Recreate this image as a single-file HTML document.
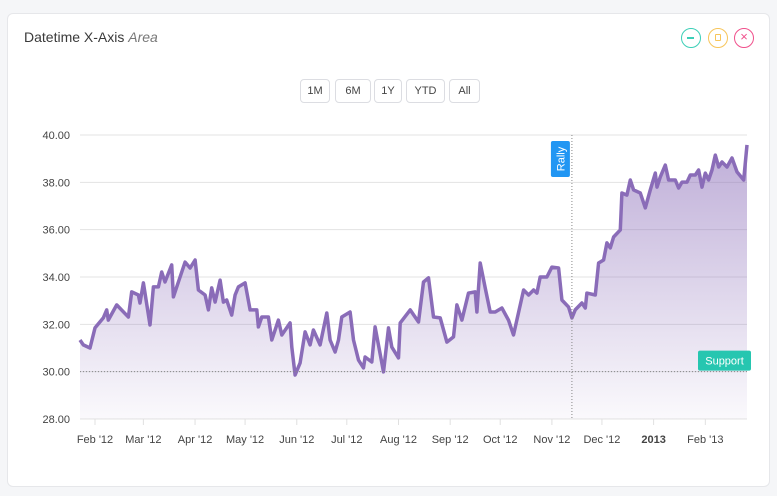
<!DOCTYPE html>
<html><head><meta charset="utf-8"><style>
body{margin:0;width:777px;height:496px;background:#f5f6f8;font-family:"Liberation Sans",sans-serif;overflow:hidden;position:relative}
.card{position:absolute;left:7px;top:13px;width:763px;height:474px;background:#fff;border:1px solid #e6e7ea;border-radius:6px;box-sizing:border-box}
.title{position:absolute;left:24px;top:29px;font-size:14px;color:#3a3a3a}
.title i{color:#777}
.btn{position:absolute;top:79px;height:24px;border:1px solid #dcdde2;border-radius:4px;font-size:11px;color:#444;line-height:23px;text-align:center;box-sizing:border-box;background:#fff}
.ic{position:absolute;top:28px;width:20px;height:20px;border-radius:50%;box-sizing:border-box;border:1.5px solid;font-size:13px;text-align:center;line-height:16px}
.ic .bar{position:absolute;left:5px;top:8px;width:7px;height:1.5px;background:#3ccfb7}
.ic .sq{position:absolute;left:5.5px;top:5px;width:4px;height:5px;border:1.5px solid #f7c55a;border-radius:1px}
svg{position:absolute;left:0;top:0}
</style></head><body>
<div class="card"></div>
<div class="title">Datetime X-Axis <i>Area</i></div>
<div class="ic" style="left:681px;border-color:#3ccfb7"><div class="bar"></div></div>
<div class="ic" style="left:708px;border-color:#f7c55a"><div class="sq"></div></div>
<div class="ic" style="left:734px;border-color:#f0508c;color:#f0508c">×</div>
<div class="btn" style="left:300px;width:30px">1M</div>
<div class="btn" style="left:335px;width:36px">6M</div>
<div class="btn" style="left:374px;width:28px">1Y</div>
<div class="btn" style="left:406px;width:39px">YTD</div>
<div class="btn" style="left:449px;width:31px">All</div>
<svg id="chart" width="777" height="496"></svg>
<script>
const days=[22,24,28,31,36,38,39,44,51,53,57,58,60,64,66,69,71,73,77,78,81,85,88,91,93,97,99,101,103,106,108,110,113,115,117,121,124,128,129,131,135,137,141,143,148,149,151,154,157,160,162,166,170,172,175,177,179,184,186,189,192,193,197,199,204,207,209,213,214,220,225,228,231,234,238,242,246,248,251,255,259,260,262,265,268,271,275,279,282,288,291,294,296,298,302,305,309,311,315,317,319,323,325,326,331,333,336,338,340,342,346,347,350,352,354,358,361,364,367,368,370,373,375,379,381,383,386,388,391,393,395,397,399,401,403,405,407,410,413,416,420,422];
const values=[31.34,31.13,31.00,31.85,32.27,32.61,32.18,32.82,32.31,33.37,33.24,32.90,33.75,31.97,33.58,33.58,34.21,33.79,34.51,33.16,33.79,34.63,34.38,34.72,33.45,33.24,32.61,33.54,32.94,33.87,32.94,33.03,32.39,33.24,33.58,33.75,32.61,32.61,31.89,32.31,32.31,31.34,32.18,31.55,32.06,31.04,29.86,30.37,31.68,31.13,31.76,31.13,32.48,31.34,30.83,31.34,32.31,32.52,31.34,30.49,30.16,30.62,30.41,31.89,29.99,31.85,31.04,30.58,32.06,32.61,32.10,33.79,33.96,32.31,32.27,31.25,31.47,32.82,32.18,33.32,33.37,32.52,34.59,33.54,32.52,32.52,32.69,32.18,31.55,33.45,33.24,33.45,33.32,34.00,34.00,34.42,34.38,33.03,32.73,32.27,32.61,32.90,32.69,33.32,33.24,34.59,34.72,35.44,35.23,35.69,35.99,37.55,37.46,38.10,37.68,37.55,36.92,37.68,38.39,37.80,38.23,38.73,38.10,38.10,37.76,38.01,38.01,38.31,38.31,38.52,37.80,38.39,38.10,38.52,39.15,38.65,38.86,38.65,39.03,38.44,38.10,39.58];
const yTicks=[28,30,32,34,36,38,40];
const xTickDays=[31,60,91,121,152,182,213,244,274,305,335,366,397];
const xTickLabels=["Feb '12","Mar '12","Apr '12","May '12","Jun '12","Jul '12","Aug '12","Sep '12","Oct '12","Nov '12","Dec '12","2013","Feb '13"];
const rallyDay=317, supportValue=30;
const L=80,R=747,T=135,B=419,d0=22,d1=422,v0=28,v1=40;
const X=d=>L+(d-d0)/(d1-d0)*(R-L);
const Y=v=>B-(v-v0)/(v1-v0)*(B-T);
const svg=document.getElementById('chart');
const NS='http://www.w3.org/2000/svg';
function mk(t,a,p){const e=document.createElementNS(NS,t);for(const k in a)e.setAttribute(k,a[k]);(p||svg).appendChild(e);return e;}
const defs=mk('defs',{});
const g=mk('linearGradient',{id:'fg',x1:0,y1:0,x2:0,y2:1},defs);
mk('stop',{offset:'0','stop-color':'#8a6cb8','stop-opacity':'0.55'},g);
mk('stop',{offset:'1','stop-color':'#8a6cb8','stop-opacity':'0.04'},g);
yTicks.forEach(v=>{
 const l=mk('line',{x1:L,x2:R,y1:Y(v),y2:Y(v),stroke:'#e3e3e3'});
 
 
 const t=mk('text',{x:70,y:Y(v)+4,'text-anchor':'end','font-size':'11',fill:'#444'});
 t.textContent=v.toFixed(2);
 
 
});
xTickDays.forEach((d,i)=>{
 mk('line',{x1:X(d),x2:X(d),y1:B,y2:B+6,stroke:'#e0e0e0'});
 const t=mk('text',{x:X(d),y:B+24,'text-anchor':'middle','font-size':'11',fill:'#444','font-weight':xTickLabels[i]==='2013'?'bold':'normal'});
 t.textContent=xTickLabels[i];
 
 
});
let pd=days.map((d,i)=>(i?'L':'M')+X(d).toFixed(1)+' '+Y(values[i]).toFixed(1)).join(' ');
const area=mk('path',{d:pd+` L${X(days[days.length-1])} ${B} L${X(days[0])} ${B} Z`,fill:'url(#fg)'});


const line=mk('path',{d:pd,fill:'none',stroke:'#8a6cb8','stroke-width':3.5,'stroke-linejoin':'round'});


const sl=mk('line',{x1:L,x2:R,y1:Y(supportValue),y2:Y(supportValue),stroke:'#888','stroke-dasharray':'1 2'});


const rl=mk('line',{x1:X(rallyDay),x2:X(rallyDay),y1:T,y2:B,stroke:'#888','stroke-dasharray':'1 2'});


const rx=X(rallyDay);
const rb=mk('rect',{x:rx-21,y:141,width:19,height:36,rx:2,fill:'#2196f3'});


const rt=mk('text',{x:0,y:0,'font-size':'11',fill:'#fff','text-anchor':'middle',transform:`translate(${rx-7.5},159) rotate(-90)`});
rt.textContent='Rally';
const sb=mk('rect',{x:698,y:Y(supportValue)-21,width:53,height:20,rx:2,fill:'#26c6b0'});


const st=mk('text',{x:724.5,y:Y(supportValue)-7,'font-size':'11',fill:'#fff','text-anchor':'middle'});
st.textContent='Support';
</script>
</body></html>
